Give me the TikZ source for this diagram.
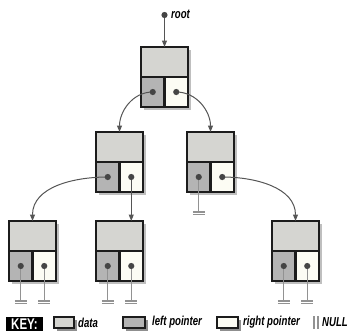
\documentclass[tikz,border=0pt]{standalone}
\usepackage{fontspec}
\usetikzlibrary{positioning,shadows,arrows.meta}

\newfontfamily\labelfont{Liberation Sans}[FakeStretch=0.74]

\definecolor{datafill}{HTML}{D5D5D1}
\definecolor{leftfill}{HTML}{B4B4B4}
\definecolor{rightfill}{HTML}{FCFCF4}
\definecolor{cellline}{HTML}{1C1C1C}
\definecolor{dotcol}{HTML}{454545}
\definecolor{linkcol}{HTML}{555555}
\definecolor{nullcol}{HTML}{929292}

% NULL marker hanging below a pointer dot
\newcommand{\nullmark}[1]{%
  \draw[nullline] (#1.center) -- ++(0,35) coordinate (#1-n);
  \draw[nullline] ([xshift=-6pt]#1-n) -- ++(12,0)
                  ([xshift=-6pt,yshift=-2.6pt]#1-n) -- ++(12,0);
}

\begin{document}
\begin{tikzpicture}[
  x=1pt, y=-1pt,
  cell/.style={rectangle, draw=cellline, line width=2.2pt, inner sep=0pt, outer sep=0pt,
    minimum height=30pt, drop shadow={shadow xshift=3pt, shadow yshift=-3pt, fill=black, opacity=0.25}},
  datacell/.style={cell, fill=datafill, minimum width=47pt},
  leftcell/.style={cell, fill=leftfill, minimum width=23.5pt},
  rightcell/.style={cell, fill=rightfill, minimum width=23.5pt},
  ptr/.style={circle, fill=dotcol, inner sep=0pt, minimum size=6.2pt},
  link/.style={draw=linkcol, line width=1pt, -{Triangle[length=6.5pt, width=5pt]}},
  nullline/.style={draw=nullcol, line width=1.4pt},
  label/.style={font=\labelfont\bfseries\itshape\fontsize{13}{15}\selectfont, inner sep=0pt},
  keybox/.style={cell, line width=1.6pt, minimum width=20pt, minimum height=11pt,
    drop shadow={shadow xshift=2.5pt, shadow yshift=-2.5pt, fill=black, opacity=0.25}}
]
\useasboundingbox (0,0) rectangle (359,333);

% tree nodes: data cell on top, left and right pointer cells below
\foreach \n/\x/\y in {root/164.5/47, ml/119.5/132, mr/210.5/132,
                      ba/32.5/221, bb/119.5/221, bc/295.5/221} {
  \node[datacell, anchor=north] (\n) at (\x,\y) {};
  \node[leftcell, anchor=north west] (\n-l) at (\n.south west) {};
  \node[rightcell, anchor=north east] (\n-r) at (\n.south east) {};
}

% root pointer
\node[ptr] (top) at (164.5,15) {};
\node[label, anchor=west] (rootlabel) at (171,14) {root};
\draw[link] (top) -- (root.north);

% links between nodes
\draw[link] (root-l.center) to[out=180, in=90] (ml.north);
\draw[link] (root-r.center) to[out=0, in=90] (mr.north);
\draw[link] (ml-l.center) to[out=180, in=90] (ba.north);
\draw[link] (ml-r.center) -- (bb.north -| ml-r.center);
\draw[link] (mr-r.center) to[out=0, in=90] (bc.north);

% NULL pointers
\foreach \n in {ba-l, ba-r, bb-l, bb-r, mr-l, bc-l, bc-r} {
  \nullmark{\n}
}

% pointer dots
\foreach \n in {root, ml, mr, ba, bb, bc} {
  \node[ptr] (\n-lp) at (\n-l.center) {};
  \node[ptr] (\n-rp) at (\n-r.center) {};
}

% key
\node[fill=black, text=white, inner sep=0pt, minimum width=37pt, minimum height=14pt,
  font=\labelfont\bfseries\fontsize{15.5}{16}\selectfont] (key) at (24.5,324) {KEY:};
\node[keybox, fill=datafill] (key-d) at (64,322.5) {};
\node[label, right=4pt of key-d] (key-dt) {data};
\node[keybox, fill=leftfill, minimum width=22pt] (key-l) at (134,322.5) {};
\node[label, right=7pt of key-l] (key-lt) {left pointer};
\node[keybox, fill=rightfill, minimum width=21pt] (key-r) at (227.5,322.5) {};
\node[label, right=5pt of key-r] (key-rt) {right pointer};
\draw[nullline] (314,316) -- (314,329) (318,316) -- (318,329);
\node[label, anchor=west] (key-nt) at (322,322.5) {NULL};
\end{tikzpicture}
\end{document}
